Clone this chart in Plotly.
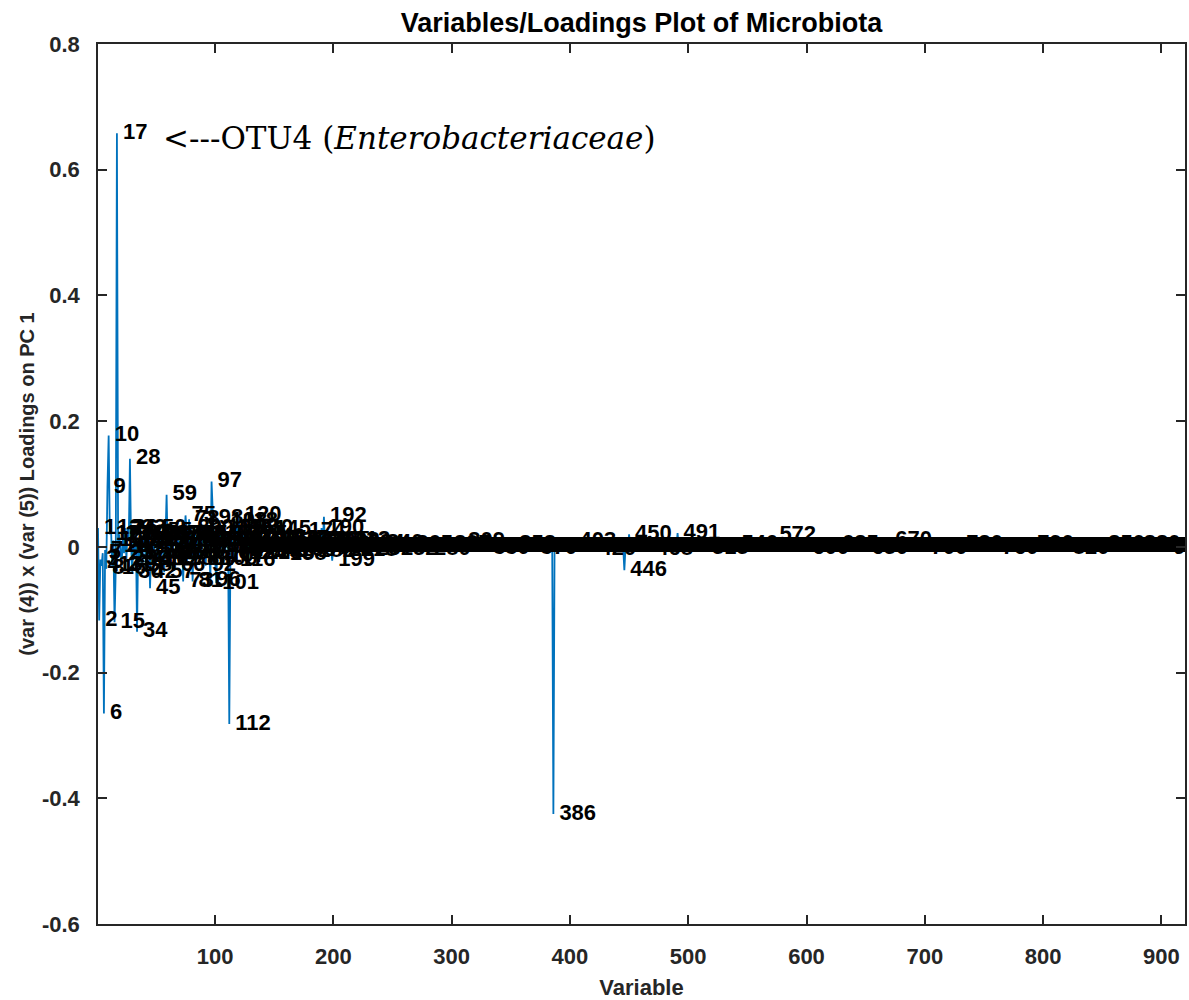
import plotly.graph_objects as go

# ---------------- data ----------------
n_variables = 920

# loadings of variables 1..130
loadings_1_to_130 = [
    0.03, -0.117, -0.02, -0.03, -0.01, -0.265, -0.005, -0.035, 0.095, 0.177,
    0.02, 0.03, -0.03, 0.01, -0.12, -0.035, 0.658, 0.0, 0.02, 0.0,
    -0.03, 0.02, -0.01, 0.03, -0.02, 0.03, 0.01, 0.14, 0.0, -0.04,
    0.02, -0.01, 0.03, -0.135, 0.01, -0.02, 0.02, -0.03, 0.01, 0.02,
    -0.02, -0.04, 0.01, 0.02, -0.066, 0.0, 0.015, -0.02, 0.01, 0.03,
    -0.01, -0.02, 0.02, 0.0, 0.025, -0.01, -0.04, 0.01, 0.083, -0.01,
    0.02, -0.02, 0.02, 0.0, -0.01, -0.03, 0.01, 0.02, -0.01, 0.01,
    0.0, 0.02, -0.055, 0.01, 0.05, 0.02, -0.02, 0.044, -0.01, 0.03,
    -0.055, 0.02, -0.02, 0.01, 0.02, -0.01, 0.0, -0.02, 0.01, 0.03,
    0.0, -0.03, 0.01, 0.02, 0.0, -0.053, 0.104, 0.045, 0.01, -0.02,
    -0.058, 0.01, 0.02, -0.01, 0.03, 0.0, -0.015, 0.04, 0.01, 0.02,
    0.0, -0.282, 0.0, 0.03, 0.0, -0.022, 0.01, 0.04, 0.0, 0.05,
    0.01, 0.0, 0.02, -0.01, 0.02, 0.0, -0.01, 0.01, 0.0, 0.03,
]

# variables 131..920: visible deviations (all others read as ~0)
sparse_index = [
    135, 138, 140, 143, 145, 148, 152, 155, 158, 162, 166, 170, 174, 178,
    182, 186, 190, 192, 195, 199, 203, 207, 212, 218, 224, 231, 240, 252,
    265, 280, 297, 309, 330, 352, 370, 386, 403, 420, 446, 450, 468, 491,
    515, 540, 572, 600, 625, 650, 670, 700, 730, 760, 790, 820, 850, 880, 905,
]
sparse_value = [
    0.01, -0.01, 0.015, -0.008, 0.028, -0.01, 0.012, 0.008, -0.012, 0.01,
    -0.006, 0.012, 0.025, 0.006, -0.008, 0.01, 0.03, 0.048, 0.01, -0.022,
    0.008, -0.006, 0.01, -0.005, 0.006, -0.004, 0.005, -0.004, 0.004, -0.004,
    0.003, 0.008, -0.003, 0.004, -0.003, -0.425, 0.008, -0.004, -0.037, 0.02,
    -0.004, 0.022, -0.003, 0.004, 0.018, -0.003, 0.004, -0.003, 0.01, -0.003,
    0.004, -0.003, 0.003, -0.003, 0.004, 0.003, -0.003,
]

x_tick_values = [100, 200, 300, 400, 500, 600, 700, 800, 900]
y_tick_values = [-0.6, -0.4, -0.2, 0, 0.2, 0.4, 0.6, 0.8]
y_tick_labels = ["-0.6", "-0.4", "-0.2", "0", "0.2", "0.4", "0.6", "0.8"]

title_text = "Variables/Loadings Plot of Microbiota"
x_title = "Variable"
y_title = "(var (4)) x (var (5)) Loadings on PC 1"
highlight_variable = 17
highlight_text = "&lt;---OTU4 (<i>Enterobacteriaceae</i>)"

# ---------------- build series ----------------
variables = list(range(1, n_variables + 1))
loadings = [0.0] * n_variables
for i, v in enumerate(loadings_1_to_130):
    loadings[i] = v
for idx, v in zip(sparse_index, sparse_value):
    loadings[idx - 1] = v
labels = [str(v) for v in variables]

axis_color = "#262626"
font_family = "Arial, 'Liberation Sans', sans-serif"

fig = go.Figure()
fig.add_trace(go.Scatter(
    x=variables, y=loadings, mode="lines",
    line=dict(color="#0072BD", width=1.8),
    hoverinfo="skip", showlegend=False,
))
# every variable is labelled with its index, just right of its point
fig.add_trace(go.Scatter(
    x=variables, y=loadings, mode="markers+text", text=labels,
    textposition="middle right",
    marker=dict(size=8, opacity=0, color="black"),
    textfont=dict(family=font_family, size=22, color="black", weight="bold"),
    hoverinfo="skip", showlegend=False,
))

fig.add_annotation(
    x=highlight_variable, y=loadings[highlight_variable - 1],
    xref="x", yref="y", text=highlight_text, showarrow=False,
    xanchor="left", yanchor="middle", xshift=44, yshift=-5,
    font=dict(family="DejaVu Serif, serif", size=31, color="black"),
)

fig.update_layout(
    width=1189, height=1000,
    margin=dict(l=98, r=2, t=44, b=76),
    paper_bgcolor="white", plot_bgcolor="white",
    title=dict(
        text=title_text, x=0.5, xanchor="center", xref="paper",
        y=0.977, yref="container", yanchor="middle",
        font=dict(family=font_family, size=27, color="black", weight="bold"),
    ),
    font=dict(family=font_family, color=axis_color),
)
fig.update_xaxes(
    range=[1, n_variables], tickvals=x_tick_values,
    ticks="inside", ticklen=9, tickwidth=1.5, tickcolor=axis_color,
    showline=True, linecolor=axis_color, linewidth=1.5, mirror="ticks",
    showgrid=False, zeroline=False,
    tickfont=dict(family=font_family, size=22, color=axis_color, weight="bold"),
    ticklabelstandoff=12,
    title=dict(text=x_title, standoff=12,
               font=dict(family=font_family, size=22, color=axis_color, weight="bold")),
)
fig.update_yaxes(
    range=[-0.6, 0.8], tickvals=y_tick_values, ticktext=y_tick_labels,
    ticks="inside", ticklen=9, tickwidth=1.5, tickcolor=axis_color,
    showline=True, linecolor=axis_color, linewidth=1.5, mirror="ticks",
    showgrid=False, zeroline=False,
    tickfont=dict(family=font_family, size=22, color=axis_color, weight="bold"),
    ticklabelstandoff=12,
    title=dict(text=y_title, standoff=2,
               font=dict(family=font_family, size=20, color=axis_color, weight="bold")),
)

fig.write_html("out.html")
